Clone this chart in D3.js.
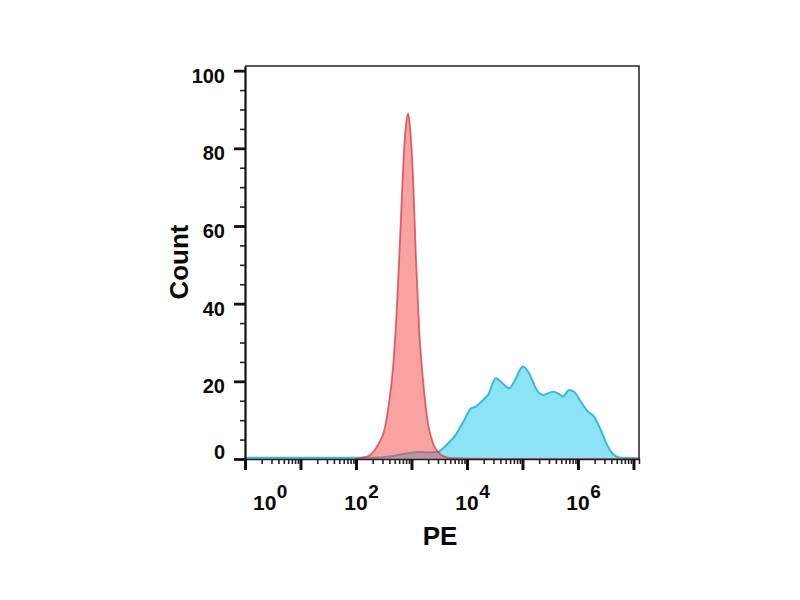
<!DOCTYPE html>
<html>
<head>
<meta charset="utf-8">
<script src="https://cdn.jsdelivr.net/npm/d3@7"></script>
<style>
  body { margin: 0; background: #fff; }
  text { font-family: "Liberation Sans", Arial, sans-serif; font-weight: bold; fill: #0a0a0a; }
</style>
</head>
<body>
<svg id="hist" width="800" height="600"></svg>
<script>
// PE intensity as log10 exponent, with the count read at each point
let redDecade  = [2.0, 2.09, 2.20, 2.31, 2.41, 2.52, 2.59, 2.67, 2.74, 2.81, 2.86, 2.90, 2.94, 2.97, 3.03, 3.08, 3.14, 3.21, 3.30, 3.39, 3.48, 3.59, 3.71, 4.5, 5.5, 6.5, 7.1];
let redCount   = [0, 0.3, 0.6, 1.8, 4, 8, 14, 24, 40, 62, 78, 86, 89, 86, 72, 52, 33, 20, 9, 4, 1.8, 0.6, 0.2, 0, 0, 0, 0];

let blueDecade = [0, 1.0, 2.0, 2.45, 2.67, 2.90, 3.14, 3.32, 3.48, 3.53, 3.66, 3.77, 3.95, 4.07, 4.16, 4.29, 4.38, 4.52, 4.61, 4.76, 4.85, 5.01, 5.10, 5.28, 5.37, 5.55, 5.64, 5.73, 5.84, 5.93, 6.05, 6.18, 6.29, 6.41, 6.54, 6.65, 6.77, 7.1];
let blueCount  = [0.3, 0.3, 0.3, 0.4, 0.8, 1.4, 1.8, 1.7, 1.8, 2.3, 4, 5.7, 10, 13, 13.5, 15.2, 16.5, 20.8, 19.9, 18.2, 19.9, 23.8, 22.5, 17.3, 16.5, 17.3, 16.9, 16.1, 17.8, 17.3, 14.8, 12.2, 10.9, 7.5, 3.2, 1.0, 0.3, 0.2];

let countTicks = [0, 20, 40, 60, 80, 100];
let decadeLabels = [0, 2, 4, 6];

let svg = d3.select("#hist");

let margin = { top: 66, right: 161, bottom: 141, left: 245 };
let plotWidth = 800 - margin.left - margin.right;
let plotHeight = 600 - margin.top - margin.bottom;

let x = d3.scaleLog()
  .domain([1, Math.pow(10, 7.1)])
  .range([0, plotWidth]);

let y = d3.scaleLinear()
  .domain([0, 101.2])
  .range([plotHeight, 0]);

let plot = svg.append("g")
  .attr("transform", "translate(" + margin.left + "," + margin.top + ")");

let area = d3.area()
  .x(d => x(Math.pow(10, d[0])))
  .y0(y(0))
  .y1(d => y(d[1]))
  .curve(d3.curveMonotoneX);

let line = area.lineY1();

let blue = d3.zip(blueDecade, blueCount);
let red = d3.zip(redDecade, redCount);

// blue sample first, the isotype control sits over it half transparent
plot.append("path").datum(blue)
  .attr("d", area)
  .attr("fill", "#8de3f6");
plot.append("path").datum(blue)
  .attr("d", line)
  .attr("fill", "none")
  .attr("stroke", "#38b8da")
  .attr("stroke-width", 2);

plot.append("path").datum(red)
  .attr("d", area)
  .attr("fill", "rgba(242,70,70,0.5)");
plot.append("path").datum(red)
  .attr("d", line)
  .attr("fill", "none")
  .attr("stroke", "rgba(205,60,65,0.75)")
  .attr("stroke-width", 1.8);

// frame (top and right)
plot.append("path")
  .attr("d", "M0,0H" + plotWidth + "V" + plotHeight)
  .attr("fill", "none")
  .attr("stroke", "#222")
  .attr("stroke-width", 1.5);

// x axis: major decades + minor ticks
let majors = d3.range(0, 8).map(k => Math.pow(10, k));
let minors = [];
d3.range(0, 7).forEach(k => {
  d3.range(2, 10).forEach(m => minors.push(m * Math.pow(10, k)));
});

let xMinor = plot.append("g")
  .attr("transform", "translate(0," + plotHeight + ")")
  .call(d3.axisBottom(x).tickValues(minors).tickSize(5).tickFormat(""));
xMinor.select(".domain").attr("stroke", "#222").attr("stroke-width", 1.5);
xMinor.selectAll(".tick line").attr("stroke", "#222").attr("stroke-width", 1.6);

let xMajor = plot.append("g")
  .attr("transform", "translate(0," + plotHeight + ")")
  .call(d3.axisBottom(x).tickValues(majors).tickSize(11).tickSizeOuter(0).tickFormat(""));
xMajor.select(".domain").remove();
xMajor.selectAll(".tick line").attr("stroke", "#111").attr("stroke-width", 3);

// x tick labels 10^k, the "10" centered on the tick
decadeLabels.forEach(k => {
  let tx = x(Math.pow(10, k));
  let g = plot.append("g");
  let base = g.append("text")
    .attr("y", plotHeight + 51)
    .attr("font-size", 21)
    .text("10");
  let w = base.node().getComputedTextLength();
  let left = Math.max(tx - w / 2, 8);
  base.attr("x", left);
  g.append("text")
    .attr("x", left + w + 0.5)
    .attr("y", plotHeight + 39)
    .attr("font-size", 19)
    .text(k);
});

// y axis
let yMinor = plot.append("g")
  .call(d3.axisLeft(y).tickValues(d3.range(0, 101, 5)).tickSize(5).tickSizeOuter(0).tickFormat(""));
yMinor.select(".domain").attr("stroke", "#111").attr("stroke-width", 2.2);
yMinor.selectAll(".tick line").attr("stroke", "#222").attr("stroke-width", 1.6);

let yMajor = plot.append("g")
  .call(d3.axisLeft(y).tickValues(countTicks).tickSize(11).tickFormat(""));
yMajor.select(".domain").remove();
yMajor.selectAll(".tick line").attr("stroke", "#111").attr("stroke-width", 2.8);

plot.selectAll(".ylabel")
  .data(countTicks)
  .enter().append("text")
  .attr("class", "ylabel")
  .attr("x", -20)
  .attr("y", d => Math.min(y(d) + 12, y(0)))
  .attr("text-anchor", "end")
  .attr("font-size", 20)
  .text(d => d);

// axis titles
svg.append("text")
  .attr("transform", "translate(188,262) rotate(-90)")
  .attr("text-anchor", "middle")
  .attr("font-size", 26)
  .text("Count");

svg.append("text")
  .attr("x", 440)
  .attr("y", 545)
  .attr("text-anchor", "middle")
  .attr("font-size", 26)
  .text("PE");
</script>
</body>
</html>
